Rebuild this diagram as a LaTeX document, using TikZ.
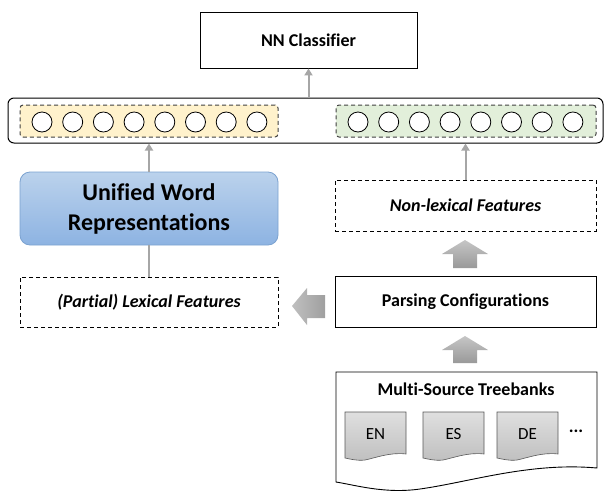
\documentclass[tikz,border=0pt]{standalone}
\usepackage{fontspec}
\setmainfont{Carlito}[Ligatures=NoCommon]
\usetikzlibrary{arrows.meta}
\definecolor{linkgray}{HTML}{A6A6A6}
\definecolor{yellowfill}{HTML}{FFF2CC}
\definecolor{greenfill}{HTML}{E2EFDA}
\definecolor{bluetop}{HTML}{BBD2EC}
\definecolor{bluebot}{HTML}{8DB3E2}
\definecolor{blueline}{HTML}{7BA2D0}
\tikzset{
  box/.style={draw=black, line width=0.9pt, fill=white, minimum width=#1, inner sep=0pt, align=center},
  dbox/.style={draw=black, line width=1pt, dash pattern=on 4pt off 3pt, minimum width=#1, inner sep=0pt, align=center},
  unit/.style={draw=black, line width=0.8pt, fill=white, circle, minimum size=20pt, inner sep=0pt},
  conn/.style={draw=linkgray, line width=2pt},
  connarrow/.style={conn, -{Triangle[length=7pt,width=8pt]}},
  blockarrow/.style={draw=none, top color=gray!45, bottom color=gray!80},
  sidearrow/.style={draw=none, left color=gray!50, right color=gray!75},
  doc/.style={draw=gray!70!black, line width=0.6pt, top color=gray!25, bottom color=gray!50},
  bigtext/.style={font=\bfseries\fontsize{18}{21}\selectfont},
  featuretext/.style={font=\bfseries\itshape\fontsize{18}{21}\selectfont},
}
\begin{document}
\begin{tikzpicture}[x=1pt, y=-1pt]
\useasboundingbox (0,0) rectangle (605,491);

% classifier on top
\node[box=217pt, minimum height=56pt, bigtext] (nn) at (308.5,40) {NN Classifier};

% input layer with its two groups of units
\node[draw=black, line width=1pt, rounded corners=6pt, minimum width=595pt, minimum height=45pt] (layer) at (305.5,120.5) {};
\node[dbox=258pt, minimum height=32pt, fill=yellowfill, rounded corners=3pt, draw=black!75] (lexgrp) at (149,121) {};
\node[dbox=260pt, minimum height=32pt, fill=greenfill, rounded corners=3pt, draw=black!75] (nlxgrp) at (466,121) {};
\foreach \i in {0,...,7} {
  \node[unit] (ly\i) at ({42+30.7*\i},122) {};
  \node[unit] (gr\i) at ({358+30.7*\i},122) {};
}

% left column
\node[draw=blueline, line width=0.8pt, rounded corners=10pt, top color=bluetop, bottom color=bluebot,
      minimum width=258pt, minimum height=73pt, align=center,
      font=\bfseries\fontsize{24}{30}\selectfont] (uwr) at (149,208.5) {Unified Word\\Representations};
\node[dbox=258pt, minimum height=50pt, featuretext] (partial) at (149,302) {(Partial) Lexical Features};

% right column
\node[dbox=261pt, minimum height=51pt, featuretext] (nonlex) at (465.5,205.5) {Non-lexical Features};
\node[box=261pt, minimum height=51pt, bigtext] (parse) at (465.5,301.5) {Parsing Configurations};

% treebank container (document shape)
\draw[line width=0.9pt, fill=white] (336,372) -- (597,372) -- (597,468)
  .. controls (530,462) and (470,482) .. (420,489)
  .. controls (385,494) and (355,485) .. (336,482) -- cycle;
\node[bigtext] (tbtitle) at (466,389) {Multi-Source Treebanks};
\foreach \x/\lab/\nm in {345/EN/en, 423/ES/es, 497/DE/de} {
  \draw[doc] (\x,412) -- (\x+61,412) -- (\x+61,454)
    .. controls (\x+45,452) and (\x+30,458) .. (\x+20,460)
    .. controls (\x+12,461) and (\x+5,459) .. (\x,458) -- cycle;
  \node[font=\fontsize{17}{20}\selectfont] (\nm) at (\x+30.5,434) {\lab};
}
\node[font=\bfseries\fontsize{18}{21}\selectfont] (dots) at (576,431) {...};

% thin connectors
\draw[connarrow] (nn.south |- layer.north) -- (nn.south);
\draw[connarrow] (uwr.north) -- (uwr.north |- layer.south);
\draw[connarrow] (nonlex.north) -- (nonlex.north |- layer.south);
\draw[conn] (uwr.south) -- (partial.north);

% block arrows
\draw[blockarrow] (465,240) -- (488,254) -- (477,254) -- (477,268) -- (453,268) -- (453,254) -- (442,254) -- cycle;
\draw[blockarrow] (465,336) -- (488,350) -- (477,350) -- (477,363) -- (453,363) -- (453,350) -- (442,350) -- cycle;
\draw[sidearrow]
  (292,306) -- (307,288) -- (307,295) -- (325,295) -- (325,318) -- (307,318) -- (307,325) -- cycle;
\end{tikzpicture}
\end{document}
